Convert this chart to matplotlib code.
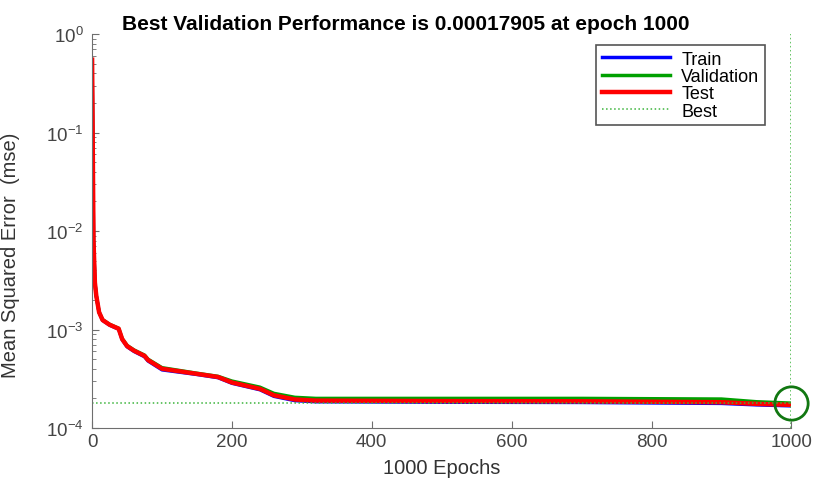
import matplotlib
matplotlib.use("Agg")
import matplotlib.pyplot as plt
from matplotlib.ticker import LogLocator, NullFormatter

plt.rcParams['font.family'] = ['Liberation Sans', 'DejaVu Sans']

# epochs and mse values
epochs = [0, 2, 4, 6, 10, 15, 25, 38, 43, 50, 60, 75, 80, 100, 150, 180, 200, 240, 260, 290, 320, 500, 700, 900, 950, 1000]
test = [0.55, 0.008, 0.003, 0.0022, 0.0015, 0.00125, 0.00112, 0.00102, 0.00080, 0.00068, 0.00061, 0.00054, 0.00049,
        0.00040, 0.000355, 0.00033, 0.00029, 0.00025, 0.000215, 0.000195, 0.00019, 0.000188, 0.000187, 0.000183,
        0.000176, 0.000172]
train = [0.54, 0.008, 0.003, 0.0022, 0.0015, 0.00124, 0.00111, 0.00101, 0.00079, 0.00067, 0.00060, 0.00053, 0.00048,
         0.00039, 0.00035, 0.000325, 0.000285, 0.000245, 0.00021, 0.00019, 0.000185, 0.000183, 0.000182, 0.000178,
         0.000172, 0.000168]
valid = [0.55, 0.008, 0.003, 0.0022, 0.0015, 0.00126, 0.00113, 0.00103, 0.00081, 0.00069, 0.00062, 0.00055, 0.0005,
         0.00041, 0.00036, 0.000335, 0.0003, 0.00026, 0.000225, 0.000205, 0.0002, 0.0002, 0.0002, 0.000197,
         0.000185, 0.00017905]
best_epoch = 1000
best_perf = 0.00017905

fig = plt.figure(figsize=(8.15, 4.81), dpi=100)
ax = fig.add_axes([0.113, 0.108, 0.858, 0.819])

ax.semilogy(epochs, train, color='#0000ff', lw=2.5, label='Train')
ax.semilogy(epochs, valid, color='#00a000', lw=2.5, label='Validation')
ax.semilogy(epochs, test, color='#ff0000', lw=3.2, label='Test')
ax.axhline(best_perf, color='#3cb43c', lw=1.1, ls=':', label='Best')
ax.axvline(best_epoch, color='#3cb43c', lw=1.1, ls=':')
ax.plot([best_epoch], [best_perf], 'o', mfc='none', mec='#117711', mew=2, ms=24, clip_on=False)

ax.set_xlim(0, 1000)
ax.set_ylim(1e-4, 1)
ax.set_xticks([0, 200, 400, 600, 800, 1000])
ax.yaxis.set_minor_locator(LogLocator(base=10, subs=range(2, 10)))
ax.yaxis.set_minor_formatter(NullFormatter())

for s in ['top', 'right']:
    ax.spines[s].set_visible(False)
for s in ['left', 'bottom']:
    ax.spines[s].set_color('#6e6e6e')
ax.tick_params(direction='in', colors='#6e6e6e', labelcolor='#444444', labelsize=13.5, length=5)
ax.tick_params(axis='y', pad=6)
ax.tick_params(which='minor', direction='in', colors='#6e6e6e', length=3)

ax.set_xlabel('1000 Epochs', fontsize=14.5, color='#333333', labelpad=6)
ax.set_ylabel('Mean Squared Error  (mse)', fontsize=14.5, color='#333333')
ax.yaxis.set_label_coords(-0.103, 0.44)
ax.set_title('Best Validation Performance is 0.00017905 at epoch 1000', fontsize=15, fontweight='bold',
             pad=4, x=0.448)

leg = ax.legend(loc='upper right', bbox_to_anchor=(0.975, 0.995), fontsize=13, fancybox=False,
                framealpha=1, edgecolor='#555555', handlelength=3.8, borderpad=0.3, labelspacing=0.02,
                handletextpad=0.6)
leg.get_frame().set_linewidth(1.2)

fig.savefig('out.png', dpi=100)
